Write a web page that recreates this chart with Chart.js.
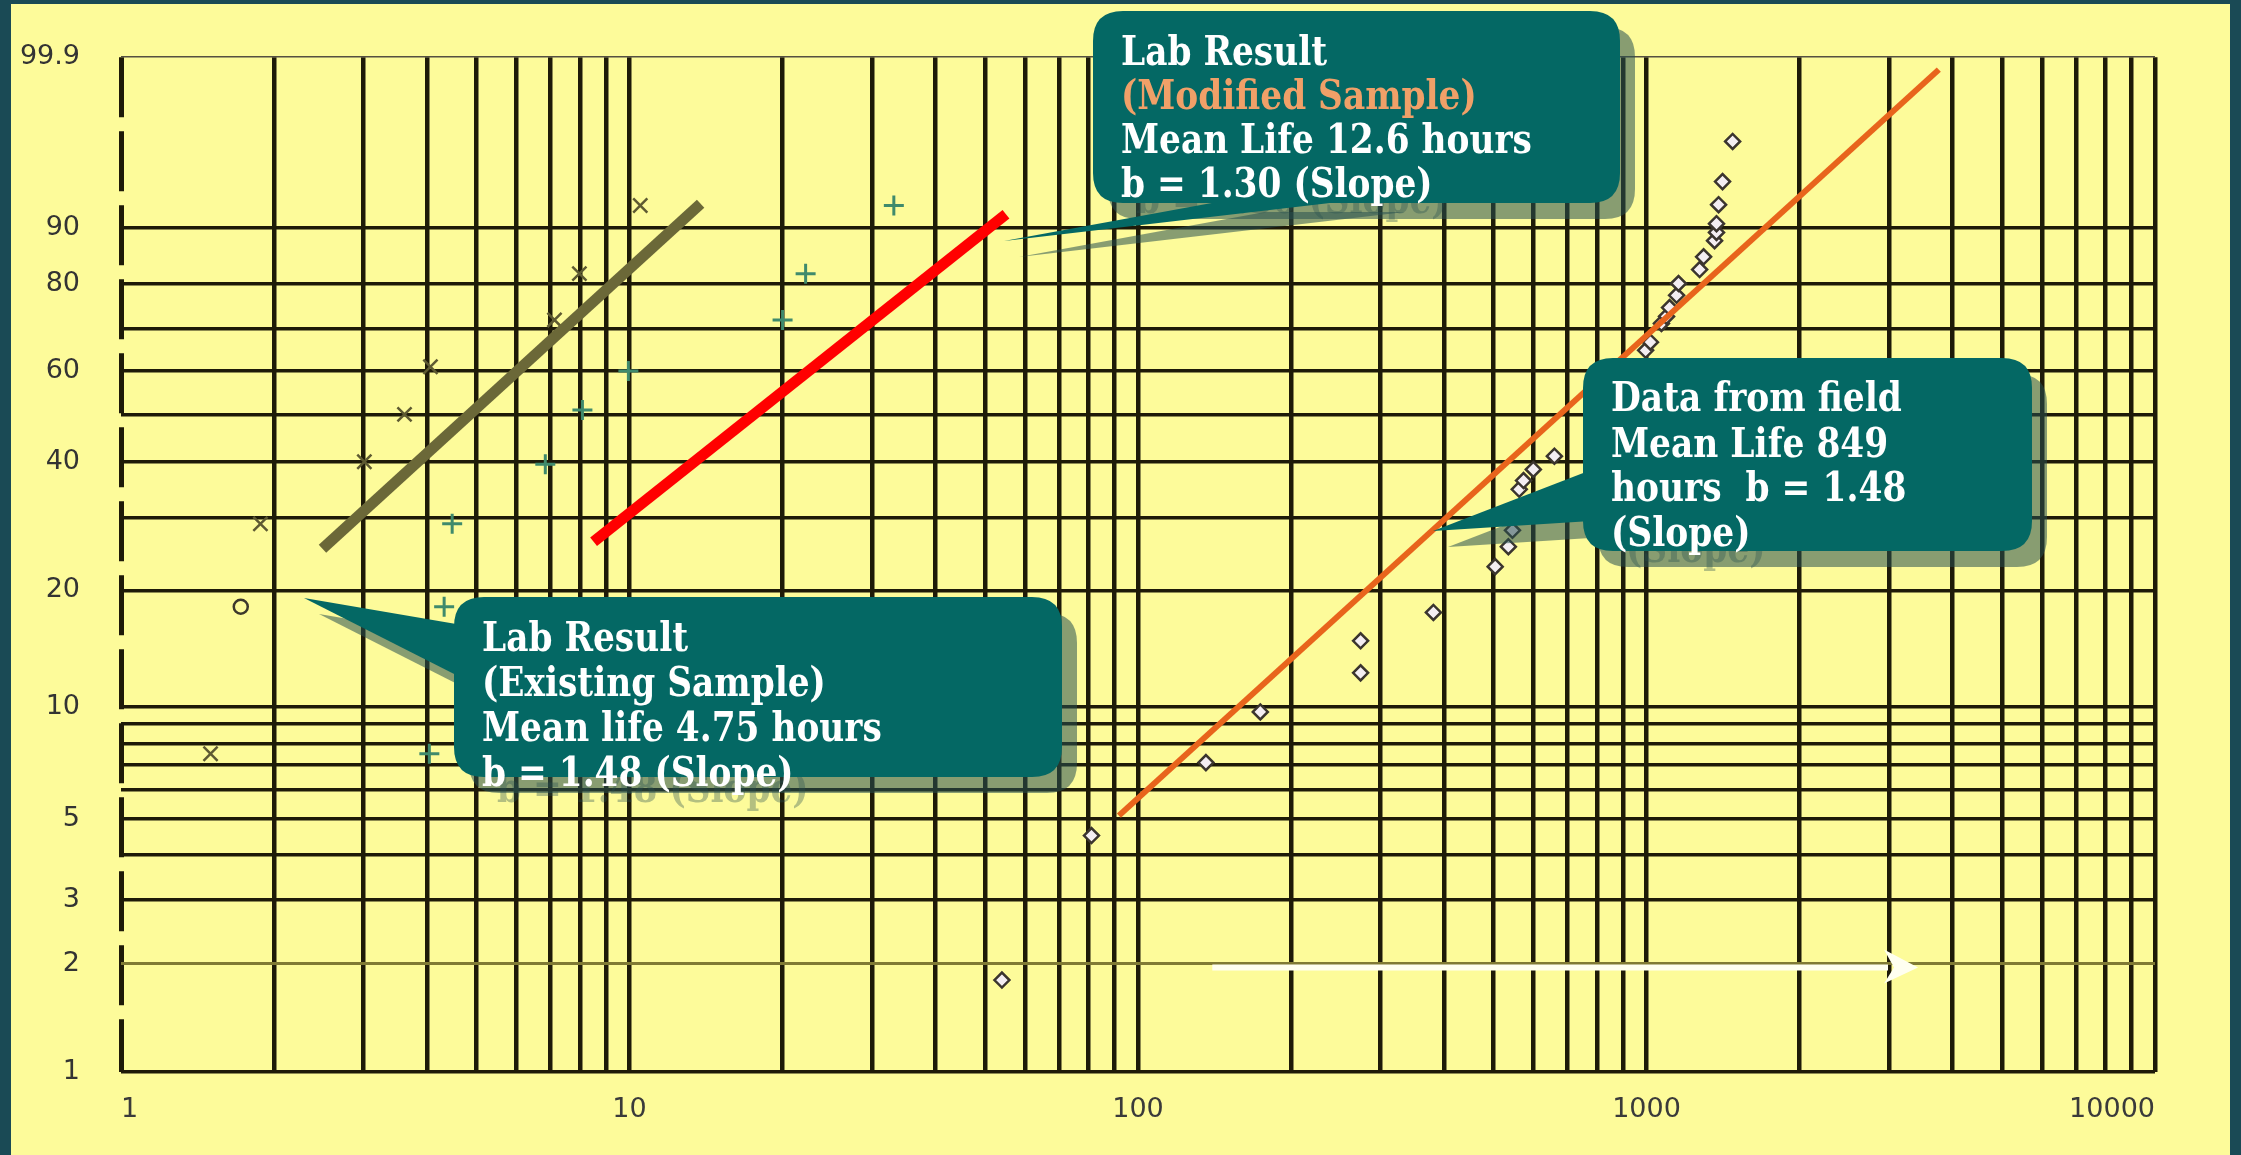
<!DOCTYPE html>
<html>
<head>
<meta charset="utf-8">
<title>Weibull plot - lab vs field</title>
<script src="https://cdn.jsdelivr.net/npm/chart.js@4.4.1/dist/chart.umd.min.js"></script>
<style>
    html, body { margin: 0; padding: 0; background: #1a4a55; overflow: hidden; }
    #wrap { width: 2241px; height: 1155px; }
</style>
</head>
<body>
<div id="wrap"><canvas id="grafico" width="2241" height="1155"></canvas></div>
<script>
// ===== DADOS =====
const xGrid = [1, 2, 3, 4, 5, 6, 7, 8, 9,
    10, 20, 30, 40, 50, 60, 70, 80, 90,
    100, 200, 300, 400, 500, 600, 700, 800, 900,
    1000, 2000, 3000, 4000, 5000, 6000, 7000, 8000, 9000, 10000];
const xLabeled = [1, 10, 100, 1000, 10000];

const yGrid = [1, 2, 3, 4, 5, 6, 7, 8, 9, 10, 20, 30, 40, 50, 60, 70, 80, 90, 99.9];
const yLabeled = [1, 2, 3, 5, 10, 20, 40, 60, 80, 90, 99.9];

// lab result, existing sample (x marks)
const existHours = [1.50, 1.88, 3.01, 3.61, 4.06, 7.12, 7.97, 10.5];
const existPct = [7.5, 29, 40, 50, 61, 72, 82, 93];
const circleHours = [1.72];
const circlePct = [18.2];

// lab result, modified sample (+ marks)
const modHours = [4.04, 4.32, 4.48, 6.83, 8.08, 9.95, 20.0, 22.2, 33.1];
const modPct = [7.5, 18.2, 29, 39.5, 51, 60, 72, 82, 93];

// data from field (diamonds)
const fieldHours = [54, 81, 136, 174, 274, 274, 381, 504, 535, 545, 562, 573, 599, 659,
    996, 1018, 1070, 1095, 1110, 1146, 1156, 1272, 1295, 1361, 1373, 1373, 1386, 1411, 1477];
const fieldPct = [1.8, 4.5, 7.1, 9.7, 12.3, 14.9, 17.6, 22.9, 25.6, 28.0, 34.8, 36.4, 38.5, 41.1,
    64.9, 66.8, 71.2, 72.8, 74.8, 77.5, 80.0, 82.8, 85.2, 88.0, 89.3, 90.6, 93.1, 95.5, 98.2];

// fitted lines (end points)
const fitExistHours = [2.49, 13.8];
const fitExistPct = [25.3, 93.2];
const fitModHours = [8.5, 55];
const fitModPct = [26.3, 91.9];
const fitFieldHours = [91.7, 3757];
const fitFieldPct = [5.1, 99.83];

// white arrow over the 2% line
const arrowHours = [140, 2985];
const arrowPct = 2;

const noteModified = ["Lab Result", "(Modified Sample)", "Mean Life 12.6 hours", "b = 1.30 (Slope)"];
const noteExisting = ["Lab Result", "(Existing Sample)", "Mean life 4.75 hours", "b = 1.48 (Slope)"];
const noteField = ["Data from field", "Mean Life 849", "hours  b = 1.48", "(Slope)"];

// ===== HELPERS =====
// Weibull probability axis: ln(-ln(1 - F))
function weib(p) {
    return Math.log(-Math.log(1 - p / 100));
}

function toPoints(xs, ps) {
    return xs.map((x, i) => ({ x: x, y: weib(ps[i]) }));
}

function roundRect(ctx, x, y, w, h, r) {
    ctx.beginPath();
    ctx.moveTo(x + r, y);
    ctx.lineTo(x + w - r, y);
    ctx.quadraticCurveTo(x + w, y, x + w, y + r);
    ctx.lineTo(x + w, y + h - r);
    ctx.quadraticCurveTo(x + w, y + h, x + w - r, y + h);
    ctx.lineTo(x + r, y + h);
    ctx.quadraticCurveTo(x, y + h, x, y + h - r);
    ctx.lineTo(x, y + r);
    ctx.quadraticCurveTo(x, y, x + r, y);
    ctx.closePath();
}

// ===== PLUGINS =====
const frame = {
    id: "frame",
    beforeDraw(chart) {
        const ctx = chart.ctx;
        ctx.save();
        ctx.fillStyle = "#1a4a55";
        ctx.fillRect(0, 0, chart.width, chart.height);
        ctx.fillStyle = "#fdfb9a";
        ctx.fillRect(11, 4, chart.width - 22, chart.height - 4);
        ctx.restore();
    }
};

const whiteArrow = {
    id: "whiteArrow",
    beforeDatasetsDraw(chart) {
        const ctx = chart.ctx;
        const sx = chart.scales.x, sy = chart.scales.y;
        const y = sy.getPixelForValue(weib(arrowPct));
        const x0 = sx.getPixelForValue(arrowHours[0]);
        const x1 = sx.getPixelForValue(arrowHours[1]);
        ctx.save();
        ctx.strokeStyle = "#fffff0";
        ctx.fillStyle = "#fffff0";
        ctx.lineWidth = 6;
        ctx.beginPath();
        ctx.moveTo(x0, y + 4);
        ctx.lineTo(x1, y + 4);
        ctx.stroke();
        ctx.beginPath();
        ctx.moveTo(x1 - 4, y - 14);
        ctx.lineTo(x1 + 30, y + 4);
        ctx.lineTo(x1 - 4, y + 20);
        ctx.lineTo(x1 + 6, y + 4);
        ctx.closePath();
        ctx.fill();
        ctx.restore();
    }
};

const callouts = [
    { box: [1093, 11, 527, 192], tip: [1004, 241], base: [[1250, 196], [1390, 196]],
      lines: noteModified, colors: ["#ffffff", "#f0a068", "#ffffff", "#ffffff"],
      textX: 1121, baselines: [65, 109, 153, 197], fitLine: 2, fitWidth: 411 },
    { box: [454, 597, 608, 180], tip: [304, 598], base: [[462, 625], [462, 678]],
      lines: noteExisting, colors: ["#ffffff", "#ffffff", "#ffffff", "#ffffff"],
      textX: 482, baselines: [651, 696, 741, 786], fitLine: 2, fitWidth: 400 },
    { box: [1583, 358, 449, 193], tip: [1433, 531], base: [[1591, 470], [1591, 521]],
      lines: noteField, colors: ["#ffffff", "#ffffff", "#ffffff", "#ffffff"],
      textX: 1611, baselines: [411, 457, 501, 546], fitLine: 0, fitWidth: 291 }
];

function drawCallout(ctx, c, dx, dy, fill, textFill, size) {
    const [bx, by, bw, bh] = c.box;
    ctx.fillStyle = fill;
    ctx.beginPath();
    ctx.moveTo(c.tip[0] + dx, c.tip[1] + dy);
    ctx.lineTo(c.base[0][0] + dx, c.base[0][1] + dy);
    ctx.lineTo(c.base[1][0] + dx, c.base[1][1] + dy);
    ctx.closePath();
    ctx.fill();
    roundRect(ctx, bx + dx, by + dy, bw, bh, 30);
    ctx.fill();

    ctx.font = "bold " + size + "px 'DejaVu Serif'";
    ctx.textBaseline = "alphabetic";
    ctx.textAlign = "left";
    c.lines.forEach((t, i) => {
        ctx.save();
        ctx.translate(c.textX + dx, c.baselines[i] + dy);
        ctx.scale(1, 1.18);
        ctx.fillStyle = textFill || c.colors[i];
        ctx.fillText(t, 0, 0);
        ctx.restore();
    });
}

const notes = {
    id: "notes",
    afterDraw(chart) {
        const ctx = chart.ctx;
        ctx.save();
        callouts.forEach(c => {
            ctx.font = "bold 100px 'DejaVu Serif'";
            const size = 100 * c.fitWidth / ctx.measureText(c.lines[c.fitLine]).width;
            drawCallout(ctx, c, 15, 16, "rgba(40, 80, 80, 0.55)", "rgba(40, 80, 80, 0.35)", size);
            drawCallout(ctx, c, 0, 0, "#046864", null, size);
        });
        ctx.restore();
    }
};

// ===== GRÁFICO =====
document.addEventListener("DOMContentLoaded", () => {
    const canvas = document.getElementById("grafico");

    new Chart(canvas, {
        type: "scatter",
        data: {
            datasets: [
                {
                    label: "Field fit",
                    data: toPoints(fitFieldHours, fitFieldPct),
                    showLine: true,
                    borderColor: "#e8641c",
                    borderWidth: 6,
                    borderCapStyle: "butt",
                    pointRadius: 0
                },
                {
                    label: "Modified fit",
                    data: toPoints(fitModHours, fitModPct),
                    showLine: true,
                    borderColor: "#ff0000",
                    borderWidth: 11,
                    borderCapStyle: "butt",
                    pointRadius: 0
                },
                {
                    label: "Existing fit",
                    data: toPoints(fitExistHours, fitExistPct),
                    showLine: true,
                    borderColor: "#6b6838",
                    borderWidth: 11,
                    borderCapStyle: "butt",
                    pointRadius: 0
                },
                {
                    label: "Field data",
                    data: toPoints(fieldHours, fieldPct),
                    pointStyle: "rectRot",
                    pointRadius: 7.5,
                    borderWidth: 2.5,
                    borderColor: "#3b352e",
                    backgroundColor: "#f4eef2"
                },
                {
                    label: "Existing sample",
                    data: toPoints(existHours, existPct),
                    pointStyle: "crossRot",
                    pointRadius: 10,
                    borderWidth: 2.5,
                    borderColor: "#5e5a32"
                },
                {
                    label: "Existing sample (o)",
                    data: toPoints(circleHours, circlePct),
                    pointStyle: "circle",
                    pointRadius: 7,
                    borderWidth: 2.5,
                    borderColor: "#3c382c",
                    backgroundColor: "rgba(0,0,0,0)"
                },
                {
                    label: "Modified sample",
                    data: toPoints(modHours, modPct),
                    pointStyle: "cross",
                    pointRadius: 10,
                    borderWidth: 3,
                    borderColor: "#3f8a6c"
                }
            ]
        },
        options: {
            responsive: false,
            animation: false,
            events: [],
            layout: { padding: { left: 11, top: 52, right: 86, bottom: 23 } },
            plugins: {
                legend: { display: false },
                tooltip: { enabled: false }
            },
            scales: {
                x: {
                    type: "logarithmic",
                    min: 1,
                    max: 10000,
                    afterBuildTicks: scale => { scale.ticks = xGrid.map(v => ({ value: v })); },
                    afterFit: scale => { scale.height = 60; },
                    ticks: {
                        autoSkip: false,
                        maxRotation: 0,
                        minRotation: 0,
                        align: "inner",
                        padding: 22,
                        color: "#3a3a3a",
                        font: { family: "DejaVu Sans", size: 27 },
                        callback: v => xLabeled.includes(v) ? String(v) : ""
                    },
                    grid: {
                        drawTicks: false,
                        color: "#1e1a08",
                        lineWidth: ctx => (ctx.tick && ctx.tick.value === 1) ? 5 : 4.5
                    },
                    border: {
                        display: false,
                        dash: ctx => (ctx.tick && ctx.tick.value === 1) ? [60, 14] : []
                    }
                },
                y: {
                    type: "linear",
                    min: weib(1),
                    max: weib(99.9),
                    afterBuildTicks: scale => { scale.ticks = yGrid.map(p => ({ value: weib(p) })); },
                    afterFit: scale => { scale.width = 110; },
                    ticks: {
                        autoSkip: false,
                        padding: 41,
                        color: "#333333",
                        font: { family: "DejaVu Sans", size: 27 },
                        callback: (v, i) => yLabeled.includes(yGrid[i]) ? String(yGrid[i]) : ""
                    },
                    grid: {
                        drawTicks: false,
                        color: ctx => {
                            const p = yGrid[ctx.index];
                            if (p === 99.9) return "#555040";
                            if (p === 2) return "#807a34";
                            return "#1e1a08";
                        },
                        lineWidth: ctx => {
                            const p = yGrid[ctx.index];
                            if (p === 99.9) return 1.5;
                            if (p === 2) return 3;
                            return 3.5;
                        }
                    },
                    border: { display: false }
                }
            }
        },
        plugins: [frame, whiteArrow, notes]
    });
});
</script>
</body>
</html>
